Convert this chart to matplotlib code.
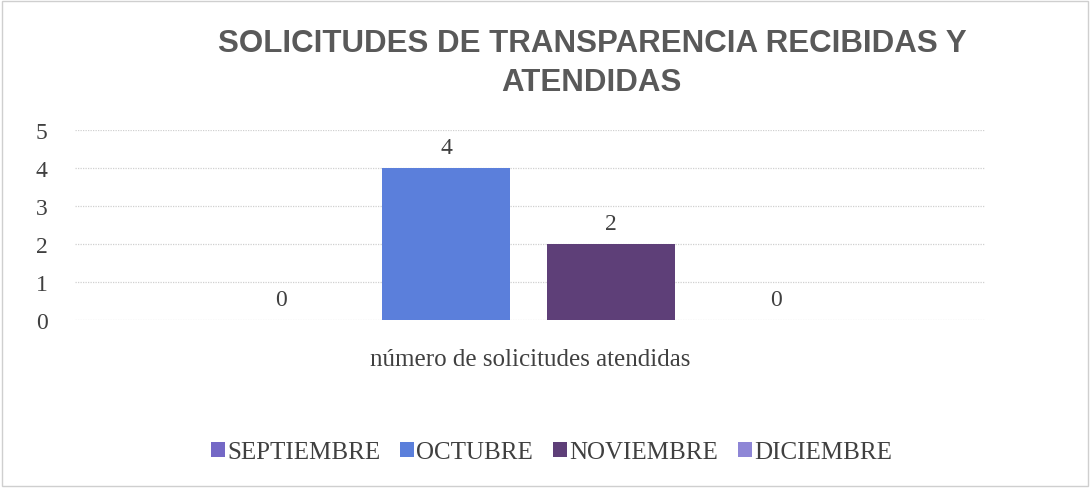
import matplotlib.pyplot as plt
from matplotlib.patches import Rectangle

# data
category = "número de solicitudes atendidas"
months = ["SEPTIEMBRE", "OCTUBRE", "NOVIEMBRE", "DICIEMBRE"]
values = [0, 4, 2, 0]
colors = ["#7468c6", "#5b7fdb", "#5e3f78", "#8e86d6"]
yticks = [0, 1, 2, 3, 4, 5]

serif = ["Liberation Serif", "DejaVu Serif"]

fig = plt.figure(figsize=(10.9, 4.89), dpi=100)
fig.patch.set_facecolor("white")
# thin frame round the whole chart
fig.add_artist(Rectangle((0.002, 0.004), 0.996, 0.992, transform=fig.transFigure,
                         fill=False, edgecolor="#cfcfcf", linewidth=1))

ax = fig.add_axes([0.069, 0.3436, 0.835, 0.3885])

width = 0.78
offsets = [-1.5, -0.5, 0.5, 1.5]
for off, month, val, col in zip(offsets, months, values, colors):
    bars = ax.bar(off, val, width=width, color=col, label=month, zorder=3)
    ax.bar_label(bars, labels=[str(val)], padding=7, fontsize=17,
                 family=serif, color="#404040")

ax.set_xlim(-2.75, 2.77)
ax.set_ylim(0, 5)
ax.set_yticks(yticks)
ax.set_yticklabels([str(t) for t in yticks], family=serif, fontsize=17, color="#404040")
ax.tick_params(axis="y", length=0, pad=20)
ax.set_xticks([])
ax.yaxis.grid(True, color="#d0d0d0", linewidth=0.9, linestyle=(0, (1, 1)), zorder=0)
for s in ax.spines.values():
    s.set_visible(False)

ax.set_xlabel(category, family=serif, fontsize=18, color="#404040", labelpad=20)

fig.text(0.543, 0.87, "SOLICITUDES DE TRANSPARENCIA RECIBIDAS Y\nATENDIDAS",
         ha="center", va="center", fontsize=22.5, fontweight="bold",
         family="Liberation Sans", color="#595959", linespacing=1.38)

leg = fig.legend(loc="center", bbox_to_anchor=(0.506, 0.073), ncol=4, frameon=False,
                 prop={"family": serif, "size": 18}, handlelength=0.55, handleheight=0.55,
                 handletextpad=0.1, columnspacing=0.8)
for t in leg.get_texts():
    t.set_color("#404040")

fig.savefig("out.png", dpi=100)
